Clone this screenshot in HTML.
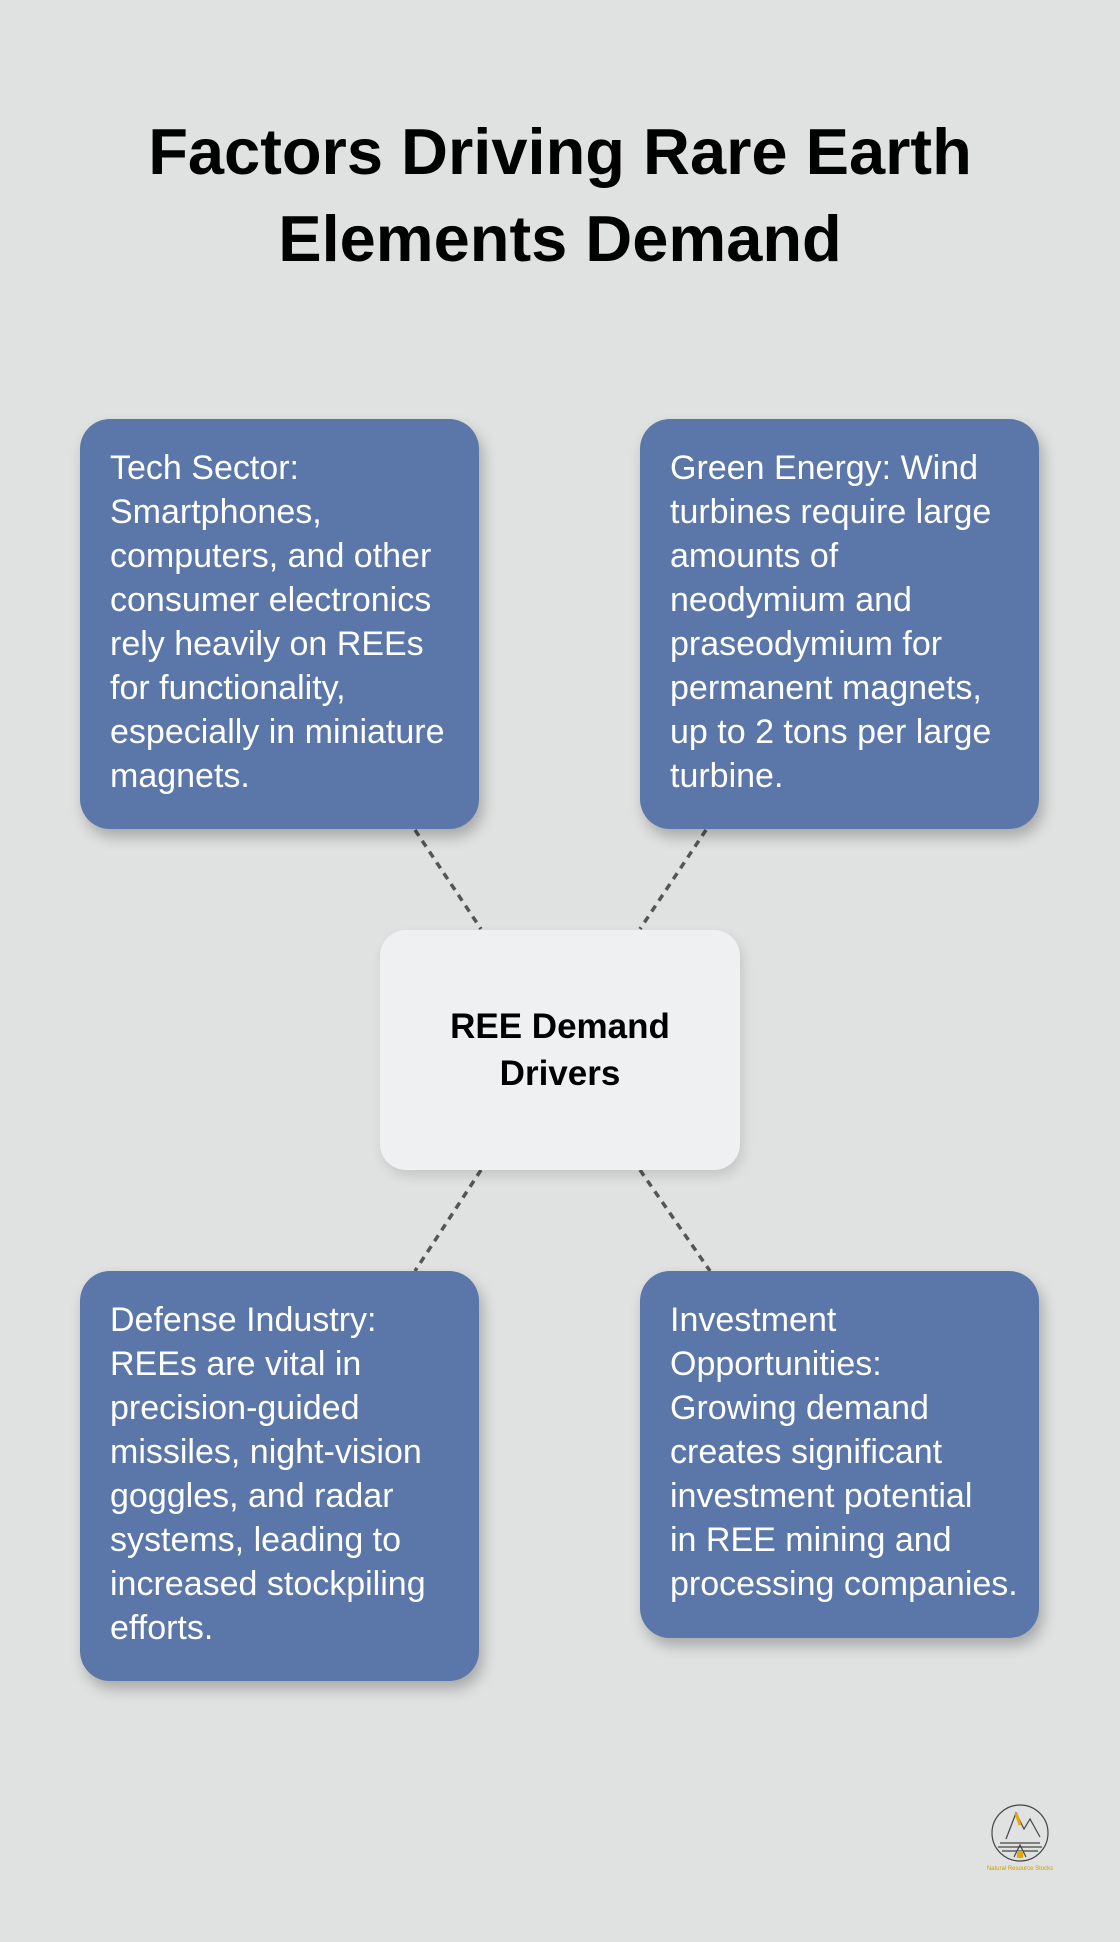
<!DOCTYPE html>
<html><head><meta charset="utf-8"><style>
body{margin:0;width:1120px;height:1942px;background:#e0e2e1;font-family:"Liberation Sans",sans-serif;position:relative;overflow:hidden}
h1{position:absolute;top:108px;left:0;width:1120px;margin:0;text-align:center;font-size:65px;line-height:87px;font-weight:bold;color:#000}
.b{position:absolute;background:#5b76a8;border-radius:30px;color:#fff;font-size:34px;line-height:44px;padding:27px 30px 0 30px;box-sizing:border-box;box-shadow:4px 8px 14px rgba(0,0,0,0.25);white-space:nowrap}
.c{position:absolute;left:380px;top:930px;width:360px;height:240px;background:#eff0f2;border-radius:26px;display:flex;align-items:center;justify-content:center;text-align:center;font-weight:bold;font-size:35px;line-height:47px;color:#000;box-shadow:3px 6px 12px rgba(0,0,0,0.12)}
</style></head><body>
<h1>Factors Driving Rare Earth<br>Elements Demand</h1>
<svg width="1120" height="1942" style="position:absolute;left:0;top:0">
<g stroke="#555" stroke-width="3.5" stroke-dasharray="7,6">
<line x1="415" y1="830" x2="481" y2="929"/>
<line x1="706" y1="830" x2="640" y2="929"/>
<line x1="481" y1="1170" x2="415" y2="1271"/>
<line x1="640" y1="1170" x2="710" y2="1271"/>
</g>
<g transform="translate(1020,1833)" fill="none" stroke="#444" stroke-width="1.2">
<circle r="28"/>
<path d="M-14 6 L-4 -20 L4 -4 L10 -14 L20 4" />
<path d="M-4 -20 L0 -8" stroke="#e8a800" stroke-width="3"/>
<path d="M-20 10 H20 M-22 14 H22 M-18 18 H18"/>
<path d="M-6 24 L0 12 L6 24" />
<rect x="-3" y="18" width="6" height="7" fill="#e8a800" stroke="none"/>
</g>
<text x="1020" y="1870" font-size="6" fill="#c9a000" text-anchor="middle" font-family="Liberation Sans">Natural Resource Stocks</text>
</svg>
<div class="b" style="left:80px;top:419px;width:399px;height:410px">Tech Sector:<br>Smartphones,<br>computers, and other<br>consumer electronics<br>rely heavily on REEs<br>for functionality,<br>especially in miniature<br>magnets.</div>
<div class="b" style="left:640px;top:419px;width:399px;height:410px">Green Energy: Wind<br>turbines require large<br>amounts of<br>neodymium and<br>praseodymium for<br>permanent magnets,<br>up to 2 tons per large<br>turbine.</div>
<div class="c">REE Demand<br>Drivers</div>
<div class="b" style="left:80px;top:1271px;width:399px;height:410px">Defense Industry:<br>REEs are vital in<br>precision-guided<br>missiles, night-vision<br>goggles, and radar<br>systems, leading to<br>increased stockpiling<br>efforts.</div>
<div class="b" style="left:640px;top:1271px;width:399px;height:367px">Investment<br>Opportunities:<br>Growing demand<br>creates significant<br>investment potential<br>in REE mining and<br>processing companies.</div>
</body></html>
